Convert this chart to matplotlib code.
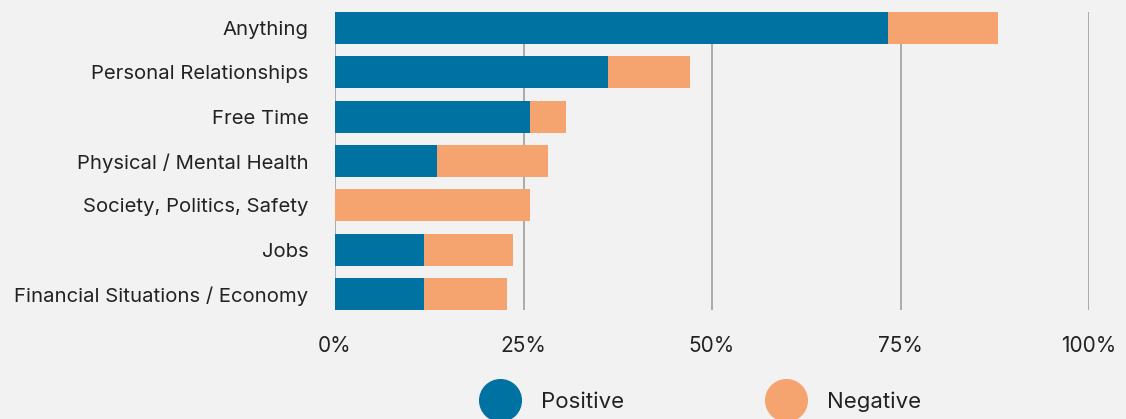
import matplotlib
matplotlib.use("Agg")
import matplotlib.pyplot as plt
from matplotlib.lines import Line2D

# datos (porcentajes)
categorias = ["Anything", "Personal Relationships", "Free Time",
              "Physical / Mental Health", "Society, Politics, Safety",
              "Jobs", "Financial Situations / Economy"]
positivo = [73.3, 36.2, 25.9, 13.5, 0.0, 11.8, 11.8]
negativo = [14.6, 10.9, 4.7, 14.7, 25.9, 11.8, 11.0]
ticks_x = [0, 25, 50, 75, 100]
etiquetas_x = ["0%", "25%", "50%", "75%", "100%"]
series = ["Positive", "Negative"]

AZUL = "#0072a1"
NARANJA = "#f6a46f"
FONDO = "#f2f2f2"
TEXTO = "#222222"

plt.rcParams["font.family"] = ["Inter", "DejaVu Sans"]

fig = plt.figure(figsize=(11.26, 4.19), dpi=100, facecolor=FONDO)
ax = fig.add_axes([335 / 1126, 1 - 310 / 419, (1089 - 335) / 1126, 298 / 419])
ax.set_facecolor(FONDO)

y = list(range(len(categorias)))
alto = 0.722
ax.barh(y, positivo, height=alto, color=AZUL, zorder=3)
ax.barh(y, negativo, left=positivo, height=alto, color=NARANJA, zorder=3)

ax.set_xlim(0, 100)
ax.set_ylim(len(categorias) - 1 + alto / 2, -alto / 2)
for t in ticks_x:
    ax.axvline(t, color="#ababab", lw=1.4, zorder=1)

ax.set_xticks(ticks_x)
ax.set_xticklabels(etiquetas_x, fontsize=15, color=TEXTO)
ax.set_yticks(y)
ax.set_yticklabels(categorias, fontsize=14.6, color=TEXTO)
ax.tick_params(axis="both", length=0)
ax.tick_params(axis="y", pad=19)
ax.tick_params(axis="x", pad=19)
for s in ax.spines.values():
    s.set_visible(False)

handles = [Line2D([], [], ls="none", marker="o", markersize=30, color=AZUL),
           Line2D([], [], ls="none", marker="o", markersize=30, color=NARANJA)]
fig.legend(handles, series, loc="center", bbox_to_anchor=(0.621, 0.042),
           ncol=2, frameon=False, fontsize=16, handletextpad=0.85,
           columnspacing=6.3, labelcolor=TEXTO)

fig.savefig("out.png", dpi=100, facecolor=FONDO)
